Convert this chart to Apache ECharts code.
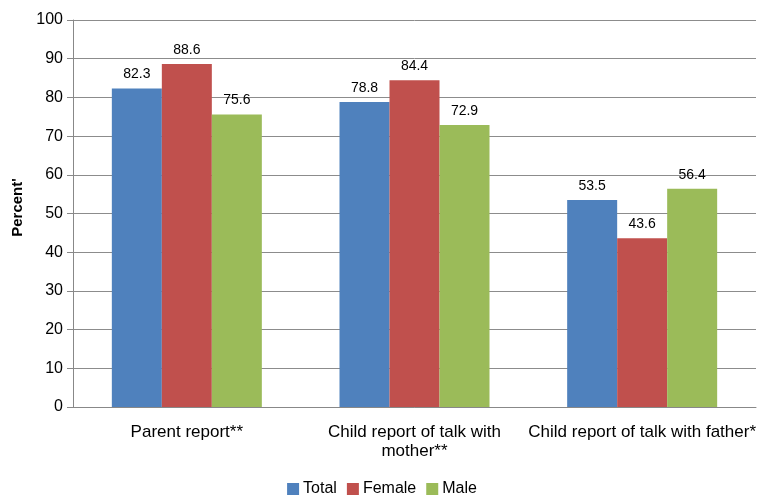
<!DOCTYPE html>
<html>
<head>
<meta charset="utf-8">
<script src="https://cdn.jsdelivr.net/npm/echarts@6/dist/echarts.min.js"></script>
<style>
  html, body { margin: 0; padding: 0; background: #fff; }
  #chart { width: 764px; height: 495px; }
</style>
</head>
<body>
<div id="chart"></div>
<script>
const categories = ['Parent report**', 'Child report of talk with\nmother**', 'Child report of talk with father*']
const totalData = [82.3, 78.8, 53.5]
const femaleData = [88.6, 84.4, 43.6]
const maleData = [75.6, 72.9, 56.4]

const chart = echarts.init(document.getElementById('chart'))
const font = 'Liberation Sans, Arial, sans-serif'

const makeSeries = (name, data, color) => ({
  name: name,
  type: 'bar',
  data: data,
  barWidth: 50,
  barGap: '0%',
  itemStyle: { color: color },
  label: {
    show: true,
    position: 'top',
    distance: 7,
    color: '#000',
    fontSize: 14,
    fontFamily: font,
    formatter: p => p.value.toFixed(1)
  }
})

chart.setOption({
  animation: false,
  textStyle: { fontFamily: font },
  grid: { left: 73, right: 8, top: 20, bottom: 88 },
  legend: {
    top: 476,
    left: 'center',
    icon: 'rect',
    itemWidth: 12,
    itemHeight: 12,
    itemGap: 10,
    textStyle: { fontSize: 16, color: '#000', padding: [0, 0, 0, -1] },
    data: ['Total', 'Female', 'Male']
  },
  xAxis: {
    type: 'category',
    data: categories,
    axisLine: { lineStyle: { color: '#888' } },
    axisTick: { show: false },
    axisLabel: { color: '#000', fontSize: 17, margin: 16, lineHeight: 19, interval: 0 }
  },
  yAxis: {
    type: 'value',
    min: 0,
    max: 100,
    interval: 10,
    name: "Percent'",
    nameLocation: 'middle',
    nameGap: 48,
    nameTextStyle: { fontSize: 15, fontWeight: 'bold', color: '#000', padding: [0, 0, 0, 12] },
    axisLine: { show: true, lineStyle: { color: '#888' } },
    axisTick: { show: true, length: 6, lineStyle: { color: '#888' } },
    axisLabel: { color: '#000', fontSize: 16, margin: 10 },
    splitLine: { lineStyle: { color: '#8c8c8c' } }
  },
  series: [
    makeSeries('Total', totalData, '#4F81BD'),
    makeSeries('Female', femaleData, '#C0504D'),
    makeSeries('Male', maleData, '#9BBB59')
  ]
})
</script>
</body>
</html>
